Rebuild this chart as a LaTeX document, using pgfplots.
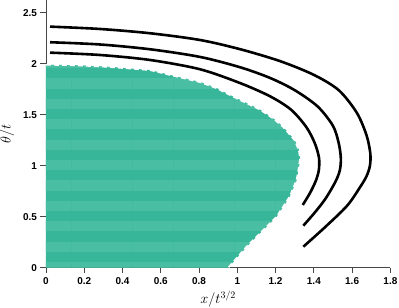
\documentclass[border=0pt]{standalone}
\usepackage{fontspec}
\setmainfont{Liberation Sans}
\usepackage{pgfplots}
\pgfplotsset{compat=1.18}
\usetikzlibrary{patterns.meta}
\definecolor{tealdark}{RGB}{56,182,154}
\definecolor{teallight}{RGB}{74,190,163}
\definecolor{axgray}{RGB}{70,70,70}
\begin{document}
\begin{tikzpicture}
\begin{axis}[
  scale only axis,
  width=344.4bp, height=267.7bp,
  xmin=0, xmax=1.8, ymin=0, ymax=2.624,
  axis lines=left,
  axis line style={-, axgray, line width=0.9bp},
  tick style={axgray, line width=0.9bp},
  tick align=outside,
  major tick length=5.5bp,
  xtick={0,0.2,0.4,0.6,0.8,1,1.2,1.4,1.6,1.8},
  ytick={0,0.5,1,1.5,2,2.5},
  /pgf/number format/assume math mode=true,
  /pgf/number format/fixed,
  ticklabel style={font=\fontsize{10}{11}\selectfont\bfseries},
  xticklabel style={yshift=-1bp},
  xlabel={$x/t^{3/2}$},
  ylabel={$\theta/t$},
  label style={font=\fontsize{14.5}{16}\selectfont},
  xlabel style={yshift=1bp},
  ylabel style={yshift=2bp},
  clip=false,
]
\addplot[draw=none, fill=tealdark,
  postaction={pattern={Lines[angle=0,distance=20.4bp,line width=10.2bp]}, pattern color=teallight}]
  coordinates {(0,0) (0,1.99) (0.15,1.985) (0.317,1.97) (0.544,1.938) (0.648,1.89) (0.805,1.82) (0.892,1.76) (0.944,1.71) (1.03,1.63) (1.119,1.55) (1.19,1.46) (1.24,1.38) (1.30,1.25) (1.322,1.15) (1.328,1.07) (1.32,0.96) (1.31,0.86) (1.275,0.70) (1.206,0.5) (1.119,0.337) (1.049,0.206) (0.953,0.0)} -- cycle;
\addplot[white, line width=1.8bp, dash pattern=on 5bp off 3bp]
  coordinates {(0,1.99) (0.15,1.985) (0.317,1.97) (0.544,1.938) (0.648,1.89) (0.805,1.82) (0.892,1.76) (0.944,1.71) (1.03,1.63) (1.119,1.55) (1.19,1.46) (1.24,1.38) (1.30,1.25) (1.322,1.15) (1.328,1.07) (1.32,0.96) (1.31,0.86) (1.275,0.70) (1.206,0.5) (1.119,0.337) (1.049,0.206) (0.953,0.0)};
\addplot[black, line width=2.6bp, smooth] coordinates {
 (0.021,2.108) (0.282,2.085) (0.544,2.036) (0.805,1.945) (1.014,1.810) (1.171,1.680) (1.280,1.550) (1.360,1.380) (1.405,1.220) (1.427,1.075) (1.426,0.958) (1.412,0.860) (1.382,0.740) (1.342,0.615)};
\addplot[black, line width=2.6bp, smooth] coordinates {
 (0.021,2.210) (0.282,2.188) (0.544,2.141) (0.805,2.066) (1.014,1.965) (1.171,1.860) (1.300,1.740) (1.420,1.580) (1.500,1.390) (1.530,1.220) (1.541,1.070) (1.535,0.950) (1.512,0.840) (1.462,0.680) (1.408,0.548) (1.345,0.412)};
\addplot[black, line width=2.6bp, smooth] coordinates {
 (0.021,2.363) (0.282,2.340) (0.544,2.298) (0.805,2.232) (1.014,2.142) (1.223,2.025) (1.400,1.890) (1.530,1.740) (1.624,1.520) (1.675,1.300) (1.695,1.120) (1.693,1.000) (1.676,0.900) (1.645,0.800) (1.575,0.610) (1.460,0.400) (1.345,0.206)};
\end{axis}
\pgfresetboundingbox
\useasboundingbox (-46bp,-40.3bp) rectangle (353bp,267.7bp);
\end{tikzpicture}
\end{document}
